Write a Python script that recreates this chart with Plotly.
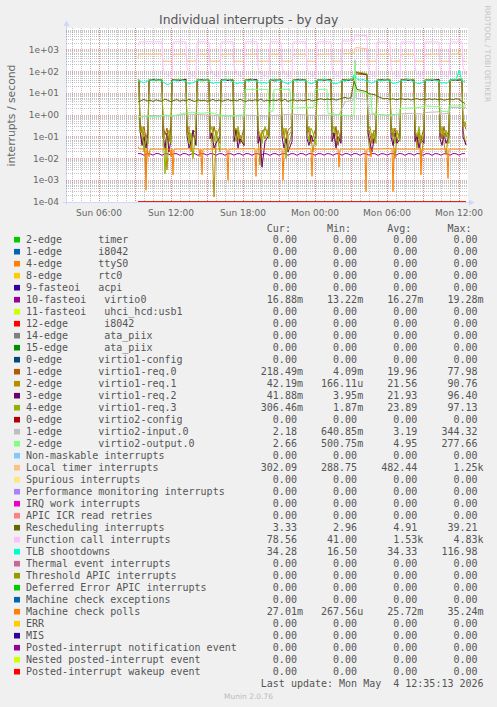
import pandas as pd
import plotly.graph_objects as go

# ---------------------------------------------------------------- legend table
LABELS = [
    "2-edge      timer", "1-edge      i8042", "4-edge      ttyS0", "8-edge      rtc0",
    "9-fasteoi   acpi", "10-fasteoi   virtio0", "11-fasteoi   uhci_hcd:usb1",
    "12-edge      i8042", "14-edge      ata_piix", "15-edge      ata_piix",
    "0-edge      virtio1-config", "1-edge      virtio1-req.0", "2-edge      virtio1-req.1",
    "3-edge      virtio1-req.2", "4-edge      virtio1-req.3", "0-edge      virtio2-config",
    "1-edge      virtio2-input.0", "2-edge      virtio2-output.0",
    "Non-maskable interrupts", "Local timer interrupts", "Spurious interrupts",
    "Performance monitoring interrupts", "IRQ work interrupts", "APIC ICR read retries",
    "Rescheduling interrupts", "Function call interrupts", "TLB shootdowns",
    "Thermal event interrupts", "Threshold APIC interrupts", "Deferred Error APIC interrupts",
    "Machine check exceptions", "Machine check polls", "ERR", "MIS",
    "Posted-interrupt notification event", "Nested posted-interrupt event",
    "Posted-interrupt wakeup event",
]
COLORS = [
    "#00CC00", "#0066B3", "#FF8000", "#FFCC00", "#330099", "#990099", "#CCFF00", "#FF0000",
    "#808080", "#008F00", "#00487D", "#B35A00", "#B38F00", "#6B006B", "#8FB300", "#B30000",
    "#BEBEBE", "#80FF80", "#80C9FF", "#FFC080", "#FFE680", "#AA80FF", "#EE00CC", "#FF8080",
    "#666600", "#FFBFFF", "#00FFCC", "#CC6699", "#999900", "#00CC00", "#0066B3", "#FF8000",
    "#FFCC00", "#330099", "#990099", "#CCFF00", "#FF0000",
]
Z = "0.00"
CUR = [Z, Z, Z, Z, Z, "16.88m", Z, Z, Z, Z, Z, "218.49m", "42.19m", "41.88m", "306.46m", Z,
       "2.18", "2.66", Z, "302.09", Z, Z, Z, Z, "3.33", "78.56", "34.28", Z, Z, Z, Z, "27.01m",
       Z, Z, Z, Z, Z]
MIN = [Z, Z, Z, Z, Z, "13.22m", Z, Z, Z, Z, Z, "4.09m", "166.11u", "3.95m", "1.87m", Z,
       "640.85m", "500.75m", Z, "288.75", Z, Z, Z, Z, "2.96", "41.00", "16.50", Z, Z, Z, Z,
       "267.56u", Z, Z, Z, Z, Z]
AVG = [Z, Z, Z, Z, Z, "16.27m", Z, Z, Z, Z, Z, "19.96", "21.56", "21.93", "23.89", Z,
       "3.19", "4.95", Z, "482.44", Z, Z, Z, Z, "4.91", "1.53k", "34.33", Z, Z, Z, Z, "25.72m",
       Z, Z, Z, Z, Z]
MAX = [Z, Z, Z, Z, Z, "19.28m", Z, Z, Z, Z, Z, "77.98", "90.76", "96.40", "97.13", Z,
       "344.32", "277.66", Z, "1.25k", Z, Z, Z, Z, "39.21", "4.83k", "116.98", Z, Z, Z, Z,
       "35.24m", Z, Z, Z, Z, Z]

# ---------------------------------------------------------------- axes
X_RANGE = ["3 03:15", "4 12:45"]
DATA_SPAN = ["3 09:15", "4 12:35"]
X_TICKS = ["3 06:00", "3 09:00", "3 12:00", "3 15:00", "3 18:00", "3 21:00", "4 00:00",
           "4 03:00", "4 06:00", "4 09:00", "4 12:00"]
X_TICKTEXT = ["Sun 06:00", "", "Sun 12:00", "", "Sun 18:00", "", "Mon 00:00", "",
              "Mon 06:00", "", "Mon 12:00"]
Y_TICKS = [1e-4, 1e-3, 1e-2, 1e-1, 1e0, 1e1, 1e2, 1e3]
Y_TICKTEXT = ["1e-04", "1e-03", "1e-02", "1e-01", "1e+00", "1e+01", "1e+02", "1e+03"]

# ---------------------------------------------------------------- series on a 15 minute grid
G15_START = "3 09:15"
TLB = [38, 33, 30, 36, 42, 37, 44, 39, 36, 28, 25, 30, 40, 36, 43, 38, 35, 27, 30, 33,
       41, 36, 45, 38, 34, 28, 32, 30, 42, 37, 44, 36, 33, 27, 31, 29, 40, 35, 43, 38,
       34, 29, 32, 28, 39, 44, 36, 41, 35, 30, 27, 33, 40, 36, 43, 38, 37, 30, 27, 34,
       41, 37, 44, 39, 36, 29, 27, 31, 40, 35, 42, 38, 70, 45, 40, 43, 38, 33, 29, 35,
       40, 36, 43, 39, 35, 28, 30, 33, 41, 36, 44, 38, 34, 29, 27, 32, 40, 37, 43, 38,
       36, 29, 31, 28, 40, 45, 38, 117, 36, 34.28]
RESCHED = [4.0, 4.6, 5.2, 4.4, 4.8, 4.2, 5.0, 4.5, 4.3, 5.4, 4.6, 4.1, 4.7, 5.1, 4.3, 4.9,
           4.4, 5.3, 4.6, 4.2, 5.0, 4.5, 4.8, 4.3, 4.6, 5.2, 4.4, 4.9, 4.3, 4.8, 5.1, 4.5,
           4.9, 4.4, 5.3, 4.6, 4.2, 4.9, 4.5, 5.0, 4.6, 5.4, 4.3, 4.8, 4.4, 4.9, 4.6, 5.1,
           4.5, 5.3, 4.2, 4.8, 5.0, 4.4, 4.9, 4.5, 4.7, 5.2, 4.4, 4.9, 5.2, 5.6, 5.0, 5.4,
           5.1, 5.5, 4.8, 5.3, 6.0, 6.5, 5.8, 6.2, 36, 15, 14, 13, 12, 9.5, 9.0, 8.5,
           7.0, 6.0, 5.5, 5.8, 5.2, 5.6, 5.0, 5.4, 5.6, 5.1, 5.5, 4.9, 5.3, 5.7, 5.0, 5.4,
           5.1, 5.6, 5.2, 5.5, 5.0, 5.4, 4.8, 5.2, 5.5, 5.0, 5.6, 5.3, 4.0, 3.33]
VIRTIO0 = [0.0168, 0.0166, 0.0141, 0.0167, 0.0165, 0.0143, 0.0169, 0.0166, 0.0140, 0.0168, 0.0164, 0.0142,
           0.0167, 0.0165, 0.0140, 0.0168, 0.0166, 0.0142, 0.0166, 0.0167, 0.0139, 0.0169, 0.0165, 0.0143,
           0.0168, 0.0164, 0.0141, 0.0167, 0.0166, 0.0140, 0.0168, 0.0165, 0.0142, 0.0166, 0.0167, 0.0141,
           0.0169, 0.0165, 0.0140, 0.0167, 0.0166, 0.0143, 0.0168, 0.0164, 0.0139, 0.0167, 0.0166, 0.0142,
           0.0166, 0.0168, 0.0141, 0.0167, 0.0165, 0.0140, 0.0169, 0.0166, 0.0142, 0.0168, 0.0165, 0.0141,
           0.0167, 0.0166, 0.0143, 0.0168, 0.0164, 0.0140, 0.0166, 0.0167, 0.0142, 0.0169, 0.0165, 0.0141,
           0.0168, 0.0166, 0.0140, 0.0167, 0.0165, 0.0142, 0.0168, 0.0166, 0.0139, 0.0167, 0.0164, 0.0143,
           0.0166, 0.0168, 0.0141, 0.0169, 0.0165, 0.0140, 0.0167, 0.0166, 0.0142, 0.0168, 0.0165, 0.0141,
           0.0167, 0.0166, 0.0140, 0.0168, 0.0164, 0.0142, 0.0166, 0.0167, 0.0141, 0.0169, 0.0166, 0.0143,
           0.0166, 0.01688]

# ---------------------------------------------------------------- breakpoint series (time, value)
FUNC_CALL = [
    ("3 09:15", 1500), ("3 09:20", 2300), ("3 11:15", 2300), ("3 11:20", 150), ("3 11:30", 80), ("3 12:05", 55),
    ("3 12:10", 2300), ("3 13:15", 2300), ("3 13:20", 150), ("3 13:30", 80), ("3 14:05", 55),
    ("3 14:10", 2300), ("3 15:10", 2300), ("3 15:15", 150), ("3 15:25", 80), ("3 16:05", 55),
    ("3 16:10", 2300), ("3 17:10", 2300), ("3 17:15", 150), ("3 17:25", 80), ("3 18:05", 55),
    ("3 18:10", 2300), ("3 19:10", 2300), ("3 19:15", 150), ("3 19:25", 80), ("3 20:10", 55),
    ("3 20:15", 2300), ("3 21:10", 2300), ("3 21:15", 150), ("3 21:25", 80), ("3 22:05", 55),
    ("3 22:10", 2300), ("3 23:15", 2300), ("3 23:20", 150), ("3 23:30", 80), ("4 00:05", 55),
    ("4 00:10", 2300), ("4 01:20", 2300), ("4 01:25", 150), ("4 01:35", 80), ("4 02:10", 55),
    ("4 02:15", 2500), ("4 03:15", 2500), ("4 03:20", 4800), ("4 04:20", 4500), ("4 04:25", 150),
    ("4 04:35", 80), ("4 05:05", 55),
    ("4 05:10", 2300), ("4 06:15", 2300), ("4 06:20", 150), ("4 06:30", 80), ("4 07:05", 55),
    ("4 07:10", 2300), ("4 08:15", 2300), ("4 08:20", 150), ("4 08:30", 80), ("4 09:05", 55),
    ("4 09:10", 2300), ("4 10:20", 2300), ("4 10:25", 150), ("4 10:35", 80), ("4 11:10", 55),
    ("4 11:15", 2300), ("4 11:55", 2300), ("4 12:00", 3500), ("4 12:05", 2300), ("4 12:15", 2300),
    ("4 12:20", 150), ("4 12:35", 78.56),
]
LOCAL_TIMER = [
    ("3 09:15", 400), ("3 09:20", 630), ("3 11:15", 630), ("3 11:20", 300), ("3 12:05", 300),
    ("3 12:10", 600), ("3 13:15", 630), ("3 13:20", 300), ("3 14:05", 300),
    ("3 14:10", 600), ("3 15:10", 630), ("3 15:15", 300), ("3 16:05", 300),
    ("3 16:10", 600), ("3 17:10", 630), ("3 17:15", 300), ("3 18:05", 300),
    ("3 18:10", 600), ("3 19:10", 630), ("3 19:15", 300), ("3 20:10", 300),
    ("3 20:15", 600), ("3 21:10", 630), ("3 21:15", 300), ("3 22:05", 300),
    ("3 22:10", 600), ("3 23:15", 630), ("3 23:20", 300), ("4 00:05", 300),
    ("4 00:10", 600), ("4 01:20", 630), ("4 01:25", 300), ("4 02:10", 300),
    ("4 02:15", 650), ("4 03:15", 700), ("4 03:20", 1200), ("4 03:30", 1250), ("4 04:20", 1100),
    ("4 04:25", 300), ("4 05:05", 300),
    ("4 05:10", 600), ("4 06:15", 630), ("4 06:20", 300), ("4 07:05", 300),
    ("4 07:10", 600), ("4 08:15", 630), ("4 08:20", 300), ("4 09:05", 300),
    ("4 09:10", 600), ("4 10:20", 630), ("4 10:25", 300), ("4 11:10", 300),
    ("4 11:15", 600), ("4 11:55", 650), ("4 12:00", 900), ("4 12:05", 650), ("4 12:15", 630),
    ("4 12:20", 300), ("4 12:35", 302.09),
]
VIRTIO2_OUT = [
    ("3 09:15", 0.85), ("3 10:00", 0.9), ("3 10:45", 0.8), ("3 11:30", 1.0), ("3 12:15", 0.9),
    ("3 13:00", 1.2), ("3 13:45", 1.35), ("3 14:30", 1.2), ("3 15:15", 1.3), ("3 16:00", 1.0),
    ("3 17:00", 0.9), ("3 18:05", 0.9), ("3 18:10", 15), ("3 20:05", 15), ("3 20:10", 1.5),
    ("3 20:30", 1.5), ("3 20:35", 15), ("3 21:55", 15), ("3 22:00", 2.0), ("3 23:55", 2.3),
    ("4 00:00", 15), ("4 01:00", 15), ("4 01:05", 1.2), ("4 02:00", 1.0), ("4 02:50", 0.9),
    ("4 03:15", 1.0), ("4 03:20", 277.66), ("4 03:25", 13), ("4 04:00", 11), ("4 04:40", 8),
    ("4 04:45", 1.2), ("4 05:30", 1.0), ("4 06:15", 0.9), ("4 07:00", 1.1), ("4 07:05", 2.0),
    ("4 08:40", 2.2), ("4 09:10", 2.6), ("4 10:25", 2.4), ("4 10:30", 1.5), ("4 11:05", 1.4),
    ("4 11:10", 2.6), ("4 12:35", 2.66),
]
VIRTIO2_IN = [
    ("3 09:15", 0.8), ("3 10:30", 0.95), ("3 12:00", 0.9), ("3 13:30", 1.1), ("3 15:00", 1.0),
    ("3 16:30", 0.9), ("3 18:00", 1.0), ("3 20:00", 0.9), ("3 22:00", 1.1), ("4 00:00", 0.95),
    ("4 02:00", 1.0), ("4 02:30", 4.0), ("4 03:15", 5.0), ("4 03:20", 344.32), ("4 03:25", 6.0),
    ("4 04:20", 5.0), ("4 04:30", 1.1), ("4 06:00", 1.0), ("4 08:00", 1.2), ("4 09:00", 1.1),
    ("4 09:10", 1.3), ("4 10:20", 1.4), ("4 10:25", 1.1), ("4 11:10", 1.2), ("4 11:15", 2.2),
    ("4 12:35", 2.18),
]
MCE_POLLS = [
    ("3 09:15", 0.035), ("3 09:20", 0.028), ("3 09:50", 0.027), ("3 09:55", 0.00035), ("3 10:00", 0.027),
    ("3 10:10", 0.012), ("3 10:15", 0.027), ("3 11:55", 0.027), ("3 12:00", 0.012), ("3 12:05", 0.027),
    ("3 12:10", 0.0018), ("3 12:15", 0.027), ("3 14:20", 0.028), ("3 14:25", 0.012), ("3 14:30", 0.027),
    ("3 14:35", 0.0018), ("3 14:40", 0.027), ("3 16:40", 0.027), ("3 16:45", 0.001), ("3 16:50", 0.027),
    ("3 19:00", 0.028), ("3 19:05", 0.0015), ("3 19:10", 0.027), ("3 21:15", 0.027), ("3 21:20", 0.001),
    ("3 21:25", 0.027), ("3 23:40", 0.028), ("3 23:45", 0.0015), ("3 23:50", 0.027), ("4 01:55", 0.027),
    ("4 02:00", 0.004), ("4 02:05", 0.027), ("4 04:10", 0.027), ("4 04:15", 0.0003), ("4 04:20", 0.027),
    ("4 04:35", 0.027), ("4 04:40", 0.012), ("4 04:45", 0.027), ("4 06:25", 0.028), ("4 06:30", 0.0003),
    ("4 06:35", 0.027), ("4 08:45", 0.027), ("4 08:50", 0.0018), ("4 08:55", 0.027), ("4 11:00", 0.027),
    ("4 11:05", 0.0012), ("4 11:10", 0.027), ("4 12:35", 0.02701),
]

# virtio1 request queues: shared sample times, grouped busy / idle stretches
VQ_TIMES = [
    ["3 09:15", "3 09:20"],
    ["3 09:25", "3 09:35", "3 09:45", "3 09:55", "3 10:05"],
    ["3 10:10", "3 10:45", "3 11:15"],
    ["3 11:20", "3 11:30", "3 11:40", "3 11:50", "3 12:00"],
    ["3 12:05", "3 12:40", "3 13:15"],
    ["3 13:20", "3 13:30", "3 13:40", "3 13:50", "3 14:05"],
    ["3 14:10", "3 14:40", "3 15:10"],
    ["3 15:15", "3 15:25", "3 15:35", "3 15:45", "3 16:05"],
    ["3 16:10", "3 16:40", "3 17:10"],
    ["3 17:15", "3 17:25", "3 17:35", "3 17:45", "3 18:05"],
    ["3 18:10", "3 18:40", "3 19:10"],
    ["3 19:15", "3 19:25", "3 19:35", "3 19:50", "3 20:10"],
    ["3 20:15", "3 20:40", "3 21:10"],
    ["3 21:15", "3 21:25", "3 21:35", "3 21:45", "3 22:05"],
    ["3 22:10", "3 22:45", "3 23:15"],
    ["3 23:20", "3 23:30", "3 23:40", "3 23:50", "4 00:05"],
    ["4 00:10", "4 00:45", "4 01:20"],
    ["4 01:25", "4 01:35", "4 01:45", "4 01:55", "4 02:10"],
    ["4 02:15", "4 02:50", "4 03:15", "4 03:20", "4 03:50", "4 04:20"],
    ["4 04:25", "4 04:35", "4 04:45", "4 04:55", "4 05:05"],
    ["4 05:10", "4 05:40", "4 06:15"],
    ["4 06:20", "4 06:30", "4 06:40", "4 06:50", "4 07:05"],
    ["4 07:10", "4 07:40", "4 08:15"],
    ["4 08:20", "4 08:30", "4 08:40", "4 08:50", "4 09:05"],
    ["4 09:10", "4 09:45", "4 10:20"],
    ["4 10:25", "4 10:35", "4 10:45", "4 10:55", "4 11:10"],
    ["4 11:15", "4 11:45", "4 12:15"],
    ["4 12:20", "4 12:30", "4 12:35"],
]
REQ0 = [
    [38, 42], [0.5, 0.15, 0.3, 0.08, 0.2], [40, 44, 38], [0.4, 0.12, 0.25, 0.06, 0.3],
    [42, 37, 45], [0.3, 0.1, 0.04, 0.2, 0.15], [39, 43, 36], [0.25, 0.08, 0.3, 0.12, 0.05],
    [41, 38, 44], [0.35, 0.1, 0.2, 0.05, 0.25], [40, 45, 37], [0.3, 0.06, 0.15, 0.25, 0.1],
    [43, 38, 41], [0.4, 0.12, 0.06, 0.2, 0.3], [39, 44, 40], [0.3, 0.15, 0.05, 0.1, 0.25],
    [42, 37, 45], [0.2, 0.08, 0.3, 0.04, 0.15], [40, 44, 42, 78, 74, 70],
    [0.3, 0.1, 0.05, 0.2, 0.15], [41, 38, 44], [0.35, 0.1, 0.25, 0.06, 0.2],
    [40, 45, 38], [0.3, 0.05, 0.15, 0.08, 0.25], [42, 38, 44], [0.25, 0.08, 0.3, 0.1, 0.2],
    [40, 44, 39], [0.5, 0.3, 0.21849],
]
REQ1 = [
    [42, 36], [0.3, 0.05, 0.2, 0.002, 0.1], [44, 39, 41], [0.2, 0.08, 0.003, 0.1, 0.4],
    [38, 43, 40], [0.15, 0.3, 0.02, 0.12, 0.06], [45, 39, 42], [0.2, 0.05, 0.00017, 0.1, 0.3],
    [37, 42, 40], [0.15, 0.25, 0.06, 0.12, 0.04], [43, 39, 41], [0.1, 0.005, 0.2, 0.08, 0.3],
    [39, 44, 37], [0.2, 0.08, 0.25, 0.03, 0.15], [42, 38, 44], [0.15, 0.3, 0.08, 0.02, 0.2],
    [38, 43, 40], [0.25, 0.1, 0.05, 0.2, 0.06], [43, 39, 45, 90, 82, 75],
    [0.1, 0.02, 0.15, 0.05, 0.3], [39, 44, 40], [0.2, 0.06, 0.01, 0.15, 0.1],
    [44, 40, 42], [0.15, 0.03, 0.2, 0.01, 0.12], [38, 43, 41], [0.1, 0.25, 0.05, 0.015, 0.2],
    [43, 39, 45], [0.2, 0.08, 0.04219],
]
REQ2 = [
    [40, 38], [0.2, 0.04, 0.1, 0.03, 0.15], [38, 42, 40], [0.1, 0.03, 0.15, 0.02, 0.08],
    [41, 39, 43], [0.12, 0.03, 0.06, 0.2, 0.04], [37, 41, 39], [0.08, 0.15, 0.03, 0.05, 0.1],
    [42, 39, 40], [0.06, 0.2, 0.03, 0.08, 0.04], [38, 41, 43], [0.05, 0.1, 0.004, 0.06, 0.12],
    [40, 37, 42], [0.1, 0.03, 0.08, 0.02, 0.06], [41, 43, 38], [0.08, 0.04, 0.12, 0.06, 0.1],
    [39, 42, 40], [0.06, 0.15, 0.03, 0.1, 0.05], [41, 38, 42, 96, 85, 72],
    [0.15, 0.05, 0.02, 0.08, 0.1], [40, 42, 38], [0.1, 0.04, 0.15, 0.05, 0.08],
    [42, 39, 41], [0.06, 0.12, 0.03, 0.08, 0.05], [39, 41, 43], [0.08, 0.04, 0.15, 0.05, 0.1],
    [41, 38, 42], [0.1, 0.05, 0.04188],
]
REQ3 = [
    [36, 41], [0.15, 0.3, 0.02, 0.1, 0.05], [42, 37, 44], [0.3, 0.002, 0.1, 0.2, 0.05],
    [39, 44, 38], [0.2, 0.05, 0.15, 0.01, 0.3], [41, 37, 43], [0.15, 0.3, 0.06, 0.2, 0.02],
    [38, 43, 41], [0.2, 0.06, 0.3, 0.1, 0.05], [42, 38, 40], [0.2, 0.15, 0.05, 0.3, 0.08],
    [37, 42, 39], [0.15, 0.25, 0.01, 0.1, 0.2], [43, 39, 41], [0.2, 0.06, 0.25, 0.15, 0.04],
    [40, 44, 38], [0.15, 0.3, 0.1, 0.06, 0.2], [39, 43, 41, 97, 88, 80],
    [0.2, 0.3, 0.08, 0.15, 0.05], [43, 39, 41], [0.15, 0.25, 0.05, 0.2, 0.06],
    [39, 42, 44], [0.2, 0.1, 0.3, 0.05, 0.15], [41, 44, 38], [0.15, 0.3, 0.1, 0.2, 0.05],
    [38, 42, 40], [0.3, 0.5, 0.30646],
]

# ---------------------------------------------------------------- helpers
W, H = 497, 707
PL, PR, PT, PB = 66, 468, 28, 202          # plot area (pixels)
Y_FLOOR = 1.04e-4                          # rrdtool draws zero at the bottom of a log axis


def T(s):
    d, hm = s.split()
    return pd.Timestamp(f"2026-05-0{d} {hm}")


def px(x):
    return (x - PL) / (PR - PL)


def py(y):
    return (PB - y) / (PB - PT)


def pairs(lst):
    return [T(t) for t, _ in lst], [v for _, v in lst]


def flat(groups):
    return [v for g in groups for v in g]


vq_t = [T(s) for s in flat(VQ_TIMES)]
for q in (REQ0, REQ1, REQ2, REQ3):
    assert len(flat(q)) == len(vq_t)
g15 = list(pd.date_range(T(G15_START), periods=len(TLB), freq="15min"))
assert len(RESCHED) == len(TLB) == len(VIRTIO0)

SERIES = {
    5: (g15, VIRTIO0),
    11: (vq_t, flat(REQ0)),
    12: (vq_t, flat(REQ1)),
    13: (vq_t, flat(REQ2)),
    14: (vq_t, flat(REQ3)),
    16: pairs(VIRTIO2_IN),
    17: pairs(VIRTIO2_OUT),
    19: pairs(LOCAL_TIMER),
    24: (g15, RESCHED),
    25: pairs(FUNC_CALL),
    26: (g15, TLB),
    31: pairs(MCE_POLLS),
}

fig = go.Figure()
for i in range(len(LABELS)):
    if i in SERIES:
        xs, ys = SERIES[i]
    else:
        xs, ys = [T(DATA_SPAN[0]), T(DATA_SPAN[1])], [0, 0]
    ys = [v if v > 0 else Y_FLOOR for v in ys]
    fig.add_trace(go.Scatter(x=xs, y=ys, mode="lines", hoverinfo="skip",
                             line=dict(color=COLORS[i], width=1)))

GRID = "rgba(140,140,140,0.5)"
MGRID = "rgba(224,80,80,0.5)"
DOT = "1px,1px"
TICKFONT = dict(family="DejaVu Sans", size=9, color="#666666")
y_minor = [k * 10.0 ** e for e in range(-4, 4) for k in range(2, 10)]

fig.update_layout(
    width=W, height=H, margin=dict(l=PL, r=W - PR, t=PT, b=H - PB, pad=0),
    paper_bgcolor="#F0F0F0", plot_bgcolor="#FFFFFF", showlegend=False,
    xaxis=dict(type="date", range=[T(X_RANGE[0]), T(X_RANGE[1])], tickmode="array",
               tickvals=[T(s) for s in X_TICKS], ticktext=X_TICKTEXT, ticks="",
               showgrid=True, gridcolor=MGRID, griddash=DOT, gridwidth=1, zeroline=False,
               showline=False, tickfont=TICKFONT, ticklabelstandoff=4,
               minor=dict(dtick=45 * 60 * 1000, tick0="2026-05-03 00:00", showgrid=True,
                          gridcolor=GRID, griddash=DOT, gridwidth=1, ticks="")),
    yaxis=dict(type="log", range=[-4, 4], tickmode="array", tickvals=Y_TICKS,
               ticktext=Y_TICKTEXT, ticks="", showgrid=True, gridcolor=MGRID, griddash=DOT,
               gridwidth=1, zeroline=False, showline=False, tickfont=TICKFONT,
               ticklabelstandoff=6,
               minor=dict(tickmode="array", tickvals=y_minor, showgrid=True, gridcolor=GRID,
                          griddash=DOT, gridwidth=1, ticks="")),
)

AXIS = "#CFD6F8"
shapes = [
    dict(type="line", xref="paper", yref="paper", x0=px(66.5), x1=px(66.5), y0=py(205), y1=py(24),
         line=dict(color=AXIS, width=1), layer="between"),
    dict(type="path", xref="paper", yref="paper",
         path=f"M {px(63.5)},{py(26)} L {px(66.5)},{py(20.5)} L {px(69.5)},{py(26)} Z",
         fillcolor=AXIS, line=dict(color=AXIS, width=0)),
    dict(type="line", xref="paper", yref="paper", x0=px(63), x1=px(470), y0=py(202.5), y1=py(202.5),
         line=dict(color=AXIS, width=1), layer="between"),
    dict(type="path", xref="paper", yref="paper",
         path=f"M {px(469)},{py(199.5)} L {px(474.5)},{py(202.5)} L {px(469)},{py(205.5)} Z",
         fillcolor=AXIS, line=dict(color=AXIS, width=0)),
]

NB = "\u00a0"
MONO = dict(family="DejaVu Sans Mono", size=10, color="#555555")
ROW0, ROWH = 239.7, 12.0
TEXT_X = 25.5


def fld(s):
    return (s if s[-1].isalpha() else s + " ").rjust(10)


annotations = [
    dict(text="Individual interrupts - by day", x=px(248.5), y=py(19), xref="paper", yref="paper",
         showarrow=False, xanchor="center", yanchor="middle",
         font=dict(family="DejaVu Sans", size=12.4, color="#555555")),
    dict(text="interrupts / second", x=px(10.5), y=py(115), xref="paper", yref="paper",
         showarrow=False, textangle=-90, xanchor="center", yanchor="middle",
         font=dict(family="DejaVu Sans", size=10.8, color="#666666")),
    dict(text="RRDTOOL / TOBI OETIKER", x=px(487), y=py(53.5), xref="paper", yref="paper",
         showarrow=False, textangle=90, xanchor="center", yanchor="middle",
         font=dict(family="DejaVu Sans", size=7.5, color="#C4C4C4")),
    dict(text=(" " * 40 + "Cur:" + " " * 6 + "Min:" + " " * 6 + "Avg:" + " " * 6 + "Max:").replace(" ", NB),
         x=px(TEXT_X), y=py(228.3), xref="paper", yref="paper", showarrow=False,
         xanchor="left", yanchor="middle", borderpad=0, borderwidth=0, font=MONO),
]
for i, lab in enumerate(LABELS):
    yc = ROW0 + ROWH * i
    line = lab.ljust(36) + fld(CUR[i]) + fld(MIN[i]) + fld(AVG[i]) + fld(MAX[i])
    annotations.append(dict(text=line.replace(" ", NB), x=px(TEXT_X), y=py(yc), xref="paper",
                            yref="paper", showarrow=False, xanchor="left", yanchor="middle",
                            borderpad=0, borderwidth=0, font=MONO))
    shapes.append(dict(type="rect", xref="paper", yref="paper", x0=px(14), x1=px(20),
                       y0=py(yc + 2.8), y1=py(yc - 2.8), fillcolor=COLORS[i],
                       line=dict(width=0)))

last_y = ROW0 + ROWH * len(LABELS)
annotations.append(dict(text=(" " * 39 + "Last update: Mon May  4 12:35:13 2026").replace(" ", NB),
                        x=px(TEXT_X), y=py(last_y), xref="paper", yref="paper", showarrow=False,
                        xanchor="left", yanchor="middle", borderpad=0, borderwidth=0, font=MONO))
annotations.append(dict(text="Munin 2.0.76", x=px(248), y=py(696.3), xref="paper", yref="paper",
                        showarrow=False, xanchor="center", yanchor="middle",
                        font=dict(family="DejaVu Sans", size=7.5, color="#BBBBBB")))

fig.update_layout(shapes=shapes, annotations=annotations)
fig.write_html("out.html", config={"displayModeBar": False, "staticPlot": True},
               post_script="document.body.style.margin='0';"
                           "document.body.style.background='#F0F0F0';")
